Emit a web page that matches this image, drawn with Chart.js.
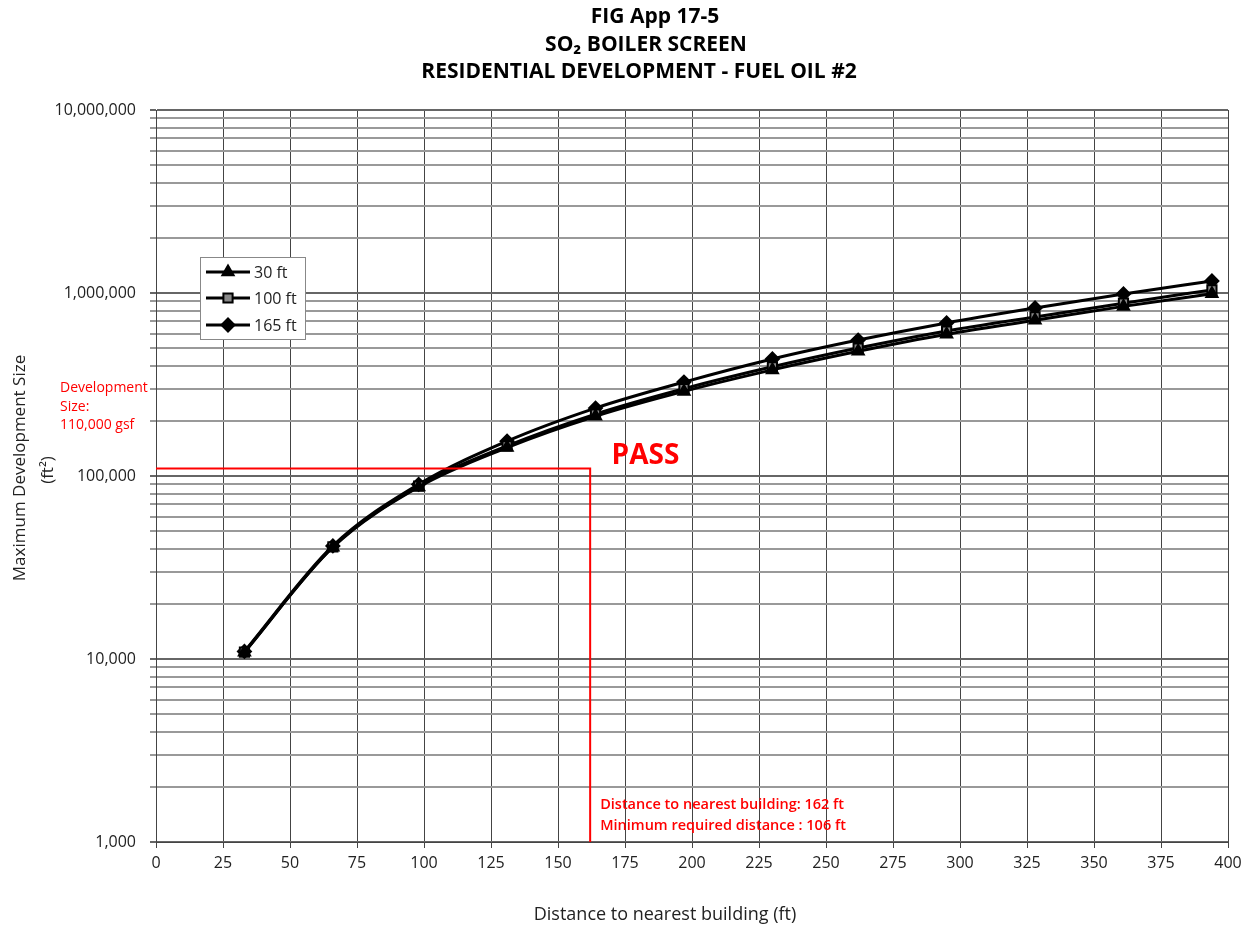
<!DOCTYPE html>
<html>
<head>
<meta charset="utf-8">
<script src="https://cdn.jsdelivr.net/npm/chart.js@4.4.0/dist/chart.umd.min.js"></script>
<style>
html,body{margin:0;padding:0;background:#fff;}
#wrap{width:1244px;height:931px;position:relative;}
</style>
</head>
<body>
<div id="wrap"><canvas id="c"></canvas></div>
<script>
// ---- data ----
const distances = [33, 66, 98, 131, 164, 197, 230, 262, 295, 328, 361, 394];
const size30ft  = [10900, 40800, 87000, 143000, 212000, 290000, 380000, 480000, 595000, 710000, 845000, 990000];
const size100ft = [10900, 41000, 88000, 146000, 218000, 300000, 395000, 500000, 620000, 740000, 880000, 1040000];
const size165ft = [11000, 41500, 90000, 155000, 235000, 326000, 436000, 553000, 686000, 828000, 988000, 1163000];
const seriesNames = ['30 ft', '100 ft', '165 ft'];
const devSize = 110000;
const nearestDist = 162;
const minDist = 106;
const xTicks = [0,25,50,75,100,125,150,175,200,225,250,275,300,325,350,375,400];
const titleLines = ['FIG App 17-5', 'SO\u2082 BOILER SCREEN', 'RESIDENTIAL DEVELOPMENT - FUEL OIL #2'];
const xTitle = 'Distance to nearest building (ft)';
const yTitle = ['Maximum Development Size', '(ft\u00B2)'];

const FONT = '"Open Sans", "Noto Sans", sans-serif';

function pts(ys){ return distances.map((x,i)=>({x:x,y:ys[i]})); }

const datasets = [
  {label:seriesNames[0], data:pts(size30ft), borderColor:'#000', backgroundColor:'#000', pointStyle:'triangle', pointRadius:6.5, pointBorderWidth:2, borderWidth:3, tension:0.35, cubicInterpolationMode:'monotone'},
  {label:seriesNames[1], data:pts(size100ft), borderColor:'#000', backgroundColor:'#888', pointStyle:'rect', pointRadius:6.5, pointBorderWidth:2, borderWidth:3, tension:0.35, cubicInterpolationMode:'monotone'},
  {label:seriesNames[2], data:pts(size165ft), borderColor:'#000', backgroundColor:'#000', pointStyle:'rectRot', pointRadius:6.5, pointBorderWidth:2, borderWidth:3, tension:0.35, cubicInterpolationMode:'monotone'},
  {label:'limit', data:[{x:0,y:devSize},{x:nearestDist,y:devSize},{x:nearestDist,y:1000}], borderColor:'#ff0000', borderWidth:2, pointRadius:0, tension:0, order:-1}
];

const yTickVals = [];
for (let e=3; e<7; e++) for (let m=1; m<10; m++) yTickVals.push(m*Math.pow(10,e));
yTickVals.push(1e7);

const overlay = {
  id:'overlay',
  afterDraw(chart){
    const ctx = chart.ctx;
    const xs = chart.scales.x, ys = chart.scales.y;
    ctx.save();
    // title
    ctx.fillStyle = '#000';
    ctx.textAlign = 'center';
    ctx.textBaseline = 'middle';
    ctx.font = 'bold 21px ' + FONT;
    ctx.fillText(titleLines[0], 655, 17);
    ctx.fillText(titleLines[1], 646, 45);
    ctx.fillText(titleLines[2], 639, 72);
    // axis titles
    ctx.fillStyle = '#222';
    ctx.font = '18px ' + FONT;
    ctx.fillText(xTitle, 665, 915);
    ctx.font = '17px ' + FONT;
    ctx.save();
    ctx.translate(20, 468);
    ctx.rotate(-Math.PI/2);
    ctx.fillText(yTitle[0], 0, 0);
    ctx.restore();
    ctx.save();
    ctx.translate(48, 470);
    ctx.rotate(-Math.PI/2);
    ctx.fillText(yTitle[1], 0, 0);
    ctx.restore();
    // red annotations
    ctx.fillStyle = '#ff0000';
    ctx.textAlign = 'left';
    ctx.font = 'bold 28px ' + FONT;
    ctx.fillText('PASS', xs.getPixelForValue(170), ys.getPixelForValue(devSize) - 12);
    ctx.font = '14px ' + FONT;
    ctx.fillText('Development', 60, 388);
    ctx.fillText('Size:', 60, 407);
    ctx.fillText(devSize.toLocaleString('en-US') + ' gsf', 60, 425);
    ctx.font = '600 14.5px ' + FONT;
    ctx.fillText('Distance to nearest building: ' + nearestDist + ' ft', xs.getPixelForValue(nearestDist) + 10, 805);
    ctx.fillText('Minimum required distance : ' + minDist + ' ft', xs.getPixelForValue(nearestDist) + 10, 826);
    // legend
    const lx = 200, ly = 257, lw = 105, lh = 82;
    ctx.fillStyle = '#fff';
    ctx.fillRect(lx, ly, lw, lh);
    ctx.strokeStyle = '#888';
    ctx.lineWidth = 1;
    ctx.strokeRect(lx+0.5, ly+0.5, lw, lh);
    const rows = [272, 298, 325];
    for (let i=0;i<3;i++){
      const ds = chart.data.datasets[i];
      const y = rows[i];
      ctx.strokeStyle = '#000';
      ctx.lineWidth = 3;
      ctx.beginPath(); ctx.moveTo(206, y); ctx.lineTo(250, y); ctx.stroke();
      ctx.fillStyle = ds.backgroundColor;
      ctx.strokeStyle = '#000';
      ctx.lineWidth = 2;
      Chart.helpers.drawPoint(ctx, {pointStyle: ds.pointStyle, radius: 6.5, borderWidth: 2, rotation: 0}, 228, y);
      ctx.fillStyle = '#222';
      ctx.font = '16px ' + FONT;
      ctx.textAlign = 'left';
      ctx.fillText(ds.label, 254, y + 1);
    }
    ctx.restore();
  }
};

new Chart(document.getElementById('c'), {
  type:'line',
  data:{datasets:datasets},
  options:{
    responsive:true,
    maintainAspectRatio:false,
    animation:false,
    layout:{padding:{top:110, right:16, left:0, bottom:0}},
    plugins:{legend:{display:false}, title:{display:false}, tooltip:{enabled:false}},
    scales:{
      x:{
        type:'linear', min:0, max:400,
        afterBuildTicks(s){ s.ticks = xTicks.map(v=>({value:v})); },
        afterFit(s){ s.height = 89; s.paddingRight = 0; s.paddingLeft = 0; },
        grid:{color:'#444', lineWidth:1, tickLength:6, drawTicks:true},
        border:{color:'#444'},
        ticks:{color:'#222', font:{family:FONT, size:16}, padding:6, maxRotation:0},
        title:{display:false}
      },
      y:{
        type:'logarithmic', min:1000, max:1e7,
        afterBuildTicks(s){ s.ticks = yTickVals.map(v=>({value:v, major: Math.abs(Math.log10(v)%1)<1e-9})); },
        afterFit(s){ s.width = 156; s.paddingTop = 0; s.paddingBottom = 0; },
        grid:{
          color:(c)=>{ const v=c.tick&&c.tick.value; return (v && Math.abs(Math.log10(v)-Math.round(Math.log10(v)))<1e-9) ? '#666' : '#999'; },
          lineWidth:2, tickLength:6
        },
        border:{color:'#444'},
        ticks:{
          color:'#222', font:{family:FONT, size:16}, padding:14, autoSkip:false,
          callback:(v)=>{ const l=Math.log10(v); return Math.abs(l-Math.round(l))<1e-9 ? Number(v).toLocaleString('en-US') : ''; }
        },
        title:{display:false}
      }
    }
  },
  plugins:[overlay]
});
</script>
</body>
</html>
